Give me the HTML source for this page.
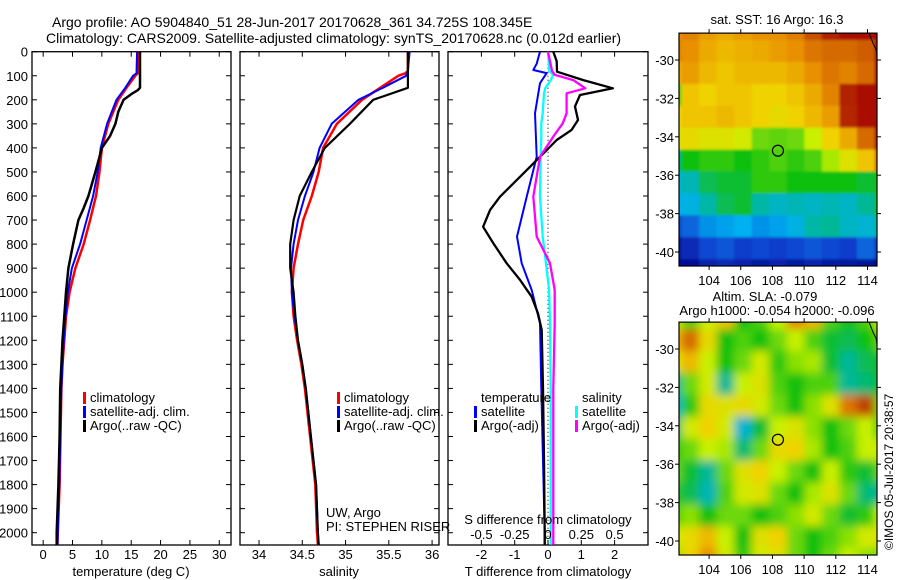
<!DOCTYPE html>
<html><head><meta charset="utf-8"><style>
html,body{margin:0;padding:0;background:#fff;}
svg{display:block;font-family:"Liberation Sans",sans-serif;}
text{fill:#000;}
</style></head><body>
<svg id="fig" width="900" height="580" viewBox="0 0 900 580" xmlns="http://www.w3.org/2000/svg">
<defs>
<clipPath id="cT"><rect x="32" y="46" width="199" height="499"/></clipPath>
<clipPath id="cS"><rect x="240" y="46" width="199" height="499"/></clipPath>
<clipPath id="cD"><rect x="448" y="46" width="200" height="499"/></clipPath>
<clipPath id="cM1"><rect x="679" y="33" width="198" height="233"/></clipPath>
<clipPath id="cM2"><rect x="679" y="322" width="198" height="233"/></clipPath>
<filter id="blurS" x="-5%" y="-5%" width="110%" height="110%"><feGaussianBlur stdDeviation="1.2"/></filter>
<filter id="blurA" x="-10%" y="-10%" width="120%" height="120%"><feGaussianBlur stdDeviation="4.5"/></filter>
</defs>
<text x="52" y="27" font-size="14">Argo profile: AO 5904840_51 28-Jun-2017 20170628_361 34.725S 108.345E</text>
<text x="46" y="43" font-size="14">Climatology: CARS2009. Satellite-adjusted climatology: synTS_20170628.nc (0.012d earlier)</text>
<g id="gT"></g>
<g id="gS"></g>
<g id="gD"></g>
<g id="gM1"></g>
<g id="gM2"></g>
<text x="777" y="24" font-size="13" text-anchor="middle">sat. SST: 16 Argo: 16.3</text>
<text x="765" y="301" font-size="13" text-anchor="middle">Altim. SLA: -0.079</text>
<text x="777" y="315" font-size="13" text-anchor="middle">Argo h1000: -0.054 h2000: -0.096</text>
<text transform="translate(893,550) rotate(-90)" font-size="12">©IMOS 05-Jul-2017 20:38:57</text>
</svg>
<script>
// ---- profile data ----
const depthT = [0,90,100,150,200,300,400,500,600,700,800,900,1000,1100,1200,1300,1400,1600,1800,2000,2050];
const tempClim = [16.1,16.1,15.7,14.2,12.8,11.1,10.0,9.6,9.0,8.0,6.9,5.5,4.5,3.9,3.6,3.3,3.1,2.95,2.8,2.5,2.45];
const tempSat  = [16.0,15.9,15.3,14.0,12.5,10.9,9.8,9.3,8.5,7.4,6.3,4.9,4.2,3.8,3.5,3.3,3.1,2.9,2.75,2.5,2.45];
const depthA = [0,150,160,175,200,250,300,350,400,500,550,600,650,700,800,900,1000,1100,1200,1300,1400,1600,1800,2000,2050];
const tempArgo = [16.5,16.5,16.1,15.1,13.7,12.8,12.3,11.4,10.0,8.9,8.3,7.7,6.9,6.0,5.1,4.3,3.9,3.6,3.3,3.1,2.9,2.8,2.6,2.3,2.3];
const depthSc = [0,80,90,100,150,200,300,400,500,600,700,800,900,1000,1100,1200,1300,1400,1600,1800,2000,2050];
const salClim = [35.72,35.72,35.69,35.61,35.40,35.19,34.90,34.74,34.69,34.61,34.51,34.45,34.40,34.38,34.40,34.44,34.49,34.53,34.59,34.65,34.67,34.68];
const salSat  = [35.74,35.72,35.71,35.70,35.43,35.15,34.84,34.70,34.63,34.53,34.45,34.40,34.37,34.38,34.41,34.45,34.50,34.54,34.60,34.66,34.68,34.69];
const salArgo = [35.72,35.72,35.72,35.72,35.72,35.32,35.05,34.76,34.61,34.47,34.40,34.36,34.36,34.40,34.42,34.45,34.50,34.54,34.60,34.66,34.68,34.69];
const depthD = [0,40,83,118,152,180,228,284,325,367,437,506,603,658,728,797,880,949,1019,1088,1157,1400,1700,2000,2050];
const dTArgo = [0.16,0.26,0.27,1.06,1.95,0.96,0.81,0.90,0.71,0.26,-0.24,-0.74,-1.44,-1.74,-1.95,-1.64,-1.24,-0.84,-0.49,-0.30,-0.19,-0.15,-0.12,-0.1,-0.1];
const depthDs = [0,50,76,89,131,256,437,603,769,880,991,1129,1400,1700,2000,2050];
const dTSat = [-0.24,-0.34,-0.44,-0.04,-0.24,-0.39,-0.34,-0.64,-0.93,-0.79,-0.49,-0.24,-0.2,-0.15,-0.1,-0.1];
const depthDsal = [0,80,96,118,152,173,256,298,353,437,603,769,880,991,1129,1400,1700,2000,2050];
const dSSat  = [0,0.01,0.04,0.02,-0.02,-0.03,-0.04,-0.05,-0.05,-0.055,-0.06,-0.04,-0.015,0.008,0.015,0.02,0.02,0.02,0.02];
const dSArgo = [0,0.03,0.05,0.19,0.28,0.14,0.14,0.11,0.04,-0.06,-0.11,-0.085,0.015,0.05,0.05,0.04,0.04,0.04,0.04];
const depthTicks = [0,100,200,300,400,500,600,700,800,900,1000,1100,1200,1300,1400,1500,1600,1700,1800,1900,2000];
const tempTicks = [0,5,10,15,20,25,30];
const salTicks = [34,34.5,35,35.5,36];
const salTickLabels = ['34','34.5','35','35.5','36'];
const dTTicks = [-2,-1,0,1,2];
const dSTicks = [-0.5,-0.25,0,0.25,0.5];
const dSTickLabels = ['-0.5','-0.25','0','0.25','0.5'];
// ---- map data (coarse grids, 12 rows lat -29..-40, 13 cols lon 102.5..114) ----
const latTicks = [-30,-32,-34,-36,-38,-40];
const lonTicks = [104,106,108,110,112,114];
const sstGrid = [
 [0.80,0.82,0.78,0.76,0.78,0.80,0.80,0.83,0.90,0.96,0.98,0.98,0.99],
 [0.82,0.80,0.76,0.74,0.75,0.76,0.78,0.80,0.84,0.86,0.86,0.88,0.97],
 [0.76,0.78,0.74,0.72,0.74,0.74,0.74,0.76,0.80,0.84,0.82,0.86,0.96],
 [0.55,0.72,0.70,0.72,0.72,0.70,0.70,0.72,0.76,0.82,0.96,0.98,0.99],
 [0.70,0.72,0.72,0.74,0.72,0.70,0.68,0.70,0.74,0.78,0.95,0.98,0.98],
 [0.66,0.68,0.66,0.66,0.64,0.56,0.55,0.56,0.62,0.70,0.76,0.86,0.96],
 [0.44,0.50,0.52,0.52,0.50,0.52,0.54,0.52,0.54,0.60,0.66,0.72,0.84],
 [0.34,0.38,0.46,0.48,0.48,0.52,0.52,0.50,0.50,0.50,0.50,0.48,0.50],
 [0.30,0.32,0.40,0.46,0.48,0.40,0.36,0.38,0.36,0.38,0.36,0.42,0.50],
 [0.16,0.20,0.26,0.28,0.30,0.26,0.28,0.32,0.40,0.42,0.36,0.34,0.42],
 [0.06,0.10,0.16,0.18,0.14,0.16,0.14,0.16,0.18,0.16,0.14,0.20,0.14],
 [0.03,0.04,0.08,0.10,0.08,0.06,0.08,0.06,0.08,0.06,0.06,0.05,0.04]
];
const slaGrid = [
 [0.62,0.54,0.62,0.72,0.50,0.54,0.62,0.82,0.74,0.54,0.50,0.54,0.62],
 [0.74,0.86,0.68,0.50,0.54,0.50,0.56,0.62,0.54,0.48,0.46,0.50,0.56],
 [0.66,0.74,0.62,0.50,0.56,0.64,0.52,0.58,0.60,0.48,0.42,0.46,0.50],
 [0.42,0.56,0.64,0.42,0.62,0.66,0.54,0.50,0.54,0.54,0.42,0.44,0.50],
 [0.34,0.52,0.68,0.66,0.68,0.64,0.56,0.50,0.58,0.66,0.84,0.92,0.56],
 [0.44,0.64,0.70,0.64,0.34,0.48,0.62,0.66,0.58,0.50,0.56,0.62,0.52],
 [0.52,0.56,0.62,0.60,0.44,0.56,0.68,0.70,0.60,0.50,0.54,0.62,0.64],
 [0.56,0.48,0.42,0.56,0.66,0.70,0.62,0.56,0.50,0.62,0.52,0.48,0.56],
 [0.52,0.46,0.38,0.54,0.64,0.66,0.56,0.50,0.60,0.66,0.56,0.44,0.40],
 [0.54,0.58,0.50,0.56,0.56,0.50,0.54,0.58,0.64,0.56,0.48,0.52,0.62],
 [0.62,0.68,0.74,0.62,0.50,0.66,0.70,0.56,0.50,0.54,0.58,0.64,0.66],
 [0.58,0.70,0.80,0.64,0.52,0.64,0.66,0.56,0.50,0.56,0.62,0.58,0.56]
];
const argoLon = [108.345];
const argoLat = [-34.725];

const NS = 'http://www.w3.org/2000/svg';
function mk(tag, parent, attrs) {
  const e = document.createElementNS(NS, tag);
  for (const k in attrs) e.setAttribute(k, attrs[k]);
  parent.appendChild(e);
  return e;
}
const yTop = 51.7, yPer = 0.2405, yBot = 545;
function yD(d) { return yTop + d * yPer; }
function xT(t) { return 32 + (t + 1.9) / 33.9 * 199; }
function xS(s) { return 240 + (s - 33.78) / 2.3 * 199; }
function xDT(v) { return 548 + v * 33.3; }
function xDS(v) { return 548 + v * 133.2; }

function frame(g, x0, x1, name) {
  const r = mk('rect', g, {x: x0, y: yTop, width: x1 - x0, height: yBot - yTop, fill: 'none', stroke: '#000', 'stroke-width': 1.3});
  
  
  depthTicks.forEach(d => {
    const y = yD(d);
    const a = mk('line', g, {x1: x0, x2: x0 + 5, y1: y, y2: y, stroke: '#000'});
    
    
    const b = mk('line', g, {x1: x1 - 5, x2: x1, y1: y, y2: y, stroke: '#000'});
    
    
  });
}
function xticks(g, ticks, labels, fx, name, labY) {
  ticks.forEach((t, i) => {
    const x = fx(t);
    const a = mk('line', g, {x1: x, x2: x, y1: yBot, y2: yBot - 5, stroke: '#000'});
    
    
    const b = mk('line', g, {x1: x, x2: x, y1: yTop, y2: yTop + 5, stroke: '#000'});
    
    
    if (labY) {
      const tx = mk('text', g, {x: x, y: labY, 'font-size': 13, 'text-anchor': 'middle'});
      tx.textContent = labels[i];
      
      
    }
  });
}
function line(g, depths, vals, fx, color, w, clip, name) {
  const pts = depths.map((d, i) => fx(vals[i]).toFixed(1) + ',' + yD(d).toFixed(1)).join(' ');
  const p = mk('polyline', g, {points: pts, fill: 'none', stroke: color, 'stroke-width': w, 'clip-path': 'url(#' + clip + ')', 'stroke-linejoin': 'round'});
  
  
}
function legend(g, x, y, entries, name) {
  entries.forEach((e, i) => {
    const yy = y + i * 14;
    if (e[1]) {
      const r = mk('rect', g, {x: x, y: yy - 10, width: 3, height: 12, fill: e[1]});
      
      
    }
    const t = mk('text', g, {x: x + 7, y: yy, 'font-size': 13});
    t.textContent = e[0];
    
    
  });
}
function txt(g, x, y, s, name, anchor) {
  const t = mk('text', g, {x: x, y: y, 'font-size': 13, 'text-anchor': anchor || 'start'});
  t.textContent = s;
  
  
}

const gT = document.getElementById('gT');
frame(gT, 32, 231, 'temperature');
depthTicks.forEach(d => {
  const t = mk('text', gT, {x: 28, y: yD(d) + 5, 'font-size': 13, 'text-anchor': 'end'});
  t.textContent = String(d);
  
  
});
xticks(gT, tempTicks, tempTicks.map(String), xT, 'temperature-x', 559);
txt(gT, 131, 576, 'temperature (deg C)', 'temperature-x-axis-title', 'middle');
line(gT, depthT, tempClim, xT, '#ff0000', 2.5, 'cT', 'temperature-climatology-line');
line(gT, depthT, tempSat, xT, '#0000ff', 2, 'cT', 'temperature-satellite-line');
line(gT, depthA, tempArgo, xT, '#000000', 2.5, 'cT', 'temperature-argo-line');
legend(gT, 83, 402, [['climatology', '#ff0000'], ['satellite-adj. clim.', '#0000ff'], ['Argo(..raw -QC)', '#000']], 'temperature-legend');

const gS = document.getElementById('gS');
frame(gS, 240, 439, 'salinity');
xticks(gS, salTicks, salTickLabels, xS, 'salinity-x', 559);
txt(gS, 339, 576, 'salinity', 'salinity-x-axis-title', 'middle');
line(gS, depthSc, salClim, xS, '#ff0000', 2.5, 'cS', 'salinity-climatology-line');
line(gS, depthSc, salSat, xS, '#0000ff', 2, 'cS', 'salinity-satellite-line');
line(gS, depthSc, salArgo, xS, '#000000', 2.2, 'cS', 'salinity-argo-line');
legend(gS, 337, 402, [['climatology', '#ff0000'], ['satellite-adj. clim.', '#0000ff'], ['Argo(..raw -QC)', '#000']], 'salinity-legend');
txt(gS, 326, 517, 'UW, Argo', 'pi-institution');
txt(gS, 326, 531, 'PI: STEPHEN RISER', 'pi-name');

const gD = document.getElementById('gD');
frame(gD, 448, 648, 'difference');
xticks(gD, dTTicks, dTTicks.map(String), xDT, 'tdiff-x', 559);
const dl = mk('line', gD, {x1: 548, x2: 548, y1: yTop, y2: yBot, stroke: '#000', 'stroke-dasharray': '1,3'});


line(gD, depthDs, dTSat, xDT, '#0000ff', 2, 'cD', 'tdiff-satellite-line');
line(gD, depthD, dTArgo, xDT, '#000000', 2.3, 'cD', 'tdiff-argo-line');
line(gD, depthDsal, dSSat, xDS, '#00ffff', 2.3, 'cD', 'sdiff-satellite-line');
line(gD, depthDsal, dSArgo, xDS, '#ff00ff', 2.3, 'cD', 'sdiff-argo-line');
legend(gD, 474, 402, [['temperature', null], ['satellite', '#0000ff'], ['Argo(-adj)', '#000']], 'tdiff-legend');
legend(gD, 575, 402, [['salinity', null], ['satellite', '#00ffff'], ['Argo(-adj)', '#ff00ff']], 'sdiff-legend');
txt(gD, 548, 524, 'S difference from climatology', 'sdiff-axis-title', 'middle');
dSTicks.forEach((v, i) => txt(gD, xDS(v), 539, dSTickLabels[i], 'sdiff-tick-label', 'middle'));
txt(gD, 548, 576, 'T difference from climatology', 'tdiff-axis-title', 'middle');

const mapX0 = 679, mapX1 = 877;
function lonX(l) { return 679 + (l - 102.1) * 15.84; }
function cmapSST(v) {
  const st = [[0,[0,0,130]],[0.15,[16,64,208]],[0.3,[0,176,240]],[0.42,[0,184,150]],[0.5,[16,192,16]],[0.62,[200,240,0]],[0.7,[240,210,0]],[0.8,[232,144,0]],[0.9,[200,80,0]],[1,[160,0,0]]];
  for (let i = 1; i < st.length; i++) {
    if (v <= st[i][0]) {
      const f = (v - st[i-1][0]) / (st[i][0] - st[i-1][0]);
      const c = st[i-1][1].map((a, k) => Math.round(a + (st[i][1][k] - a) * f));
      return 'rgb(' + c.join(',') + ')';
    }
  }
  return 'rgb(160,0,0)';
}
function drawMap(gid, grid, y30, clip, filt, name) {
  const g = document.getElementById(gid);
  function latY(l) { return y30 + (-30 - l) * 19.2; }
  const top = latY(-28.6), bot = latY(-40.73);
  const cells = mk('g', g, {'clip-path': 'url(#' + clip + ')'});
  
  
  const inner = mk('g', cells, {filter: 'url(#' + filt + ')'});
  const rows = grid.length, cols = grid[0].length;
  const cw = (mapX1 - mapX0 + 30) / cols, ch = (bot - top + 30) / rows;
  grid.forEach((row, r) => row.forEach((v, c) => {
    const rc = mk('rect', inner, {x: mapX0 - 15 + c * cw, y: top - 15 + r * ch, width: cw + 0.5, height: ch + 0.5, fill: cmapSST(v)});
    
    
  }));
  const coast = mk('polyline', g, {points: `869,${top} 873,${top+10} 876,${top+16} 877,${top+22}`, fill: 'none', stroke: '#000', 'stroke-width': 1});
  
  
  const fr = mk('rect', g, {x: mapX0, y: top, width: mapX1 - mapX0, height: bot - top, fill: 'none', stroke: '#000', 'stroke-width': 1.2});
  
  
  latTicks.forEach(l => {
    const y = latY(l);
    const a = mk('line', g, {x1: mapX0 - 4, x2: mapX0, y1: y, y2: y, stroke: '#000'});
    
    
    const b = mk('line', g, {x1: mapX1, x2: mapX1 + 4, y1: y, y2: y, stroke: '#000'});
    
    
    txt(g, 674, y + 5, String(l), name + '-lat-label', 'end');
  });
  lonTicks.forEach(l => {
    const x = lonX(l);
    const a = mk('line', g, {x1: x, x2: x, y1: top - 4, y2: top, stroke: '#000'});
    
    
    const b = mk('line', g, {x1: x, x2: x, y1: bot, y2: bot + 4, stroke: '#000'});
    
    
    txt(g, x, bot + 19, String(l), name + '-lon-label', 'middle');
  });
  argoLon.forEach((lo, i) => {
    const c = mk('circle', g, {cx: lonX(lo), cy: latY(argoLat[i]), r: 5.5, fill: 'none', stroke: '#000', 'stroke-width': 1.2});
    
    
  });
}
drawMap('gM1', sstGrid, 60, 'cM1', 'blurS', 'sst-map');
drawMap('gM2', slaGrid, 349, 'cM2', 'blurA', 'sla-map');
</script>
</body></html>
